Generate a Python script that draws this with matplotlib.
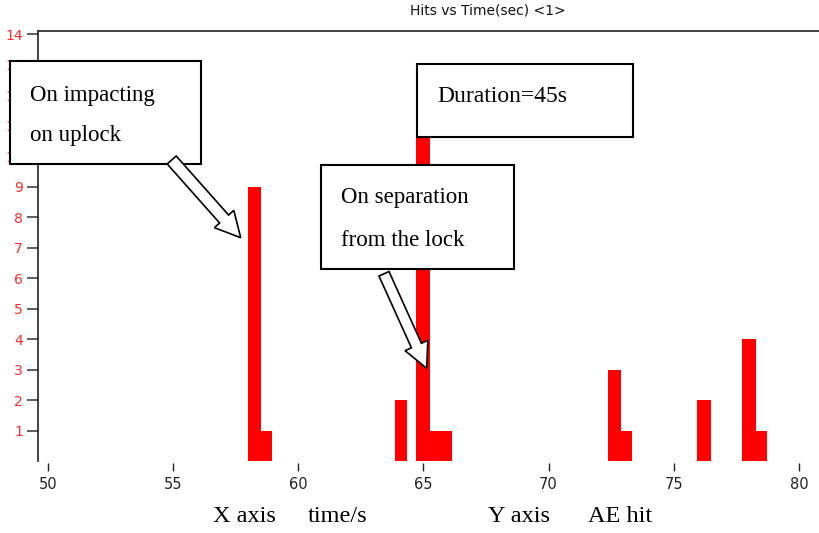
import matplotlib
matplotlib.use("Agg")
import matplotlib.pyplot as plt
from matplotlib.patches import Rectangle, FancyArrow
from matplotlib.transforms import IdentityTransform
import numpy as np

# ---- data ----
bin_left = [58.0, 58.52, 63.86, 64.71, 65.27, 65.70, 72.36, 72.90, 75.94, 77.74, 78.29]
bin_right = [58.52, 58.96, 64.34, 65.27, 65.70, 66.13, 72.90, 73.34, 76.49, 78.29, 78.73]
hits = [9, 1, 2, 13, 1, 1, 3, 1, 2, 4, 1]
x_ticks = [50, 55, 60, 65, 70, 75, 80]
y_ticks = list(range(1, 15))

title = "Hits vs Time(sec) <1>"
box1_lines = ["On impacting", "on uplock"]
box2_lines = ["Duration=45s"]
box3_lines = ["On separation", "from the lock"]
xlabel_parts = ["X axis", "time/s"]
ylabel_parts = ["Y axis", "AE hit"]

W, H = 819, 533
fig = plt.figure(figsize=(W / 100, H / 100), dpi=100)

def fx(x):
    return x / W

def fy(y):
    return 1 - y / H

ax_left, ax_top, ax_bottom = 37.7, 30.7, 461.0
ax = fig.add_axes([fx(ax_left), fy(ax_bottom), 1 - fx(ax_left), (ax_bottom - ax_top) / H])

widths = np.array(bin_right) - np.array(bin_left)
ax.bar(bin_left, hits, width=widths, align="edge", color="#ff0000", edgecolor="none")

ax.set_xlim(49.6, 80.8)
ax.set_ylim(0, 14.12)
ax.set_xticks(x_ticks)
ax.set_xticklabels([str(v) for v in x_ticks])
ax.set_yticks(y_ticks)
ax.set_yticklabels([str(v) for v in y_ticks])

ax.spines["bottom"].set_position(("outward", 1.5))
for s in ["bottom", "right"]:
    ax.spines[s].set_visible(False)
for s in ["left", "top"]:
    ax.spines[s].set_linewidth(1.2)
    ax.spines[s].set_color("#222222")

ax.tick_params(axis="y", direction="out", length=8, width=1.1, color="#333333",
               labelcolor="#ff2a2a", labelsize=10, pad=2.5)
ax.tick_params(axis="x", direction="out", length=5.5, width=1.0, color="#222222",
               labelcolor="#222222", labelsize=10.5, pad=4.5)
for lab in ax.get_xticklabels() + ax.get_yticklabels():
    lab.set_fontfamily("DejaVu Sans")

fig.text(fx(488), fy(11), title, ha="center", va="center", fontsize=10,
         family="DejaVu Sans", color="#111111")

serif = "Liberation Serif"

def box(x0, y0, x1, y1, lines, tx, tys, fs):
    fig.add_artist(Rectangle((fx(x0), fy(y1)), fx(x1) - fx(x0), fy(y0) - fy(y1),
                             transform=fig.transFigure, facecolor="white",
                             edgecolor="black", linewidth=1.5, zorder=5))
    for line, ty in zip(lines, tys):
        fig.text(fx(tx), fy(ty), line, ha="left", va="center", fontsize=fs,
                 family=serif, color="black", zorder=6)

box(9.5, 61.3, 201, 164.5, box1_lines, 29.7, [95, 135], 16.5)
box(416.7, 64.3, 632.7, 137.3, box2_lines, 437.7, [97], 17)
box(321, 165, 514, 269, box3_lines, 341, [198, 240], 16.5)

def arrow(tail, tip, width, head_width, head_length):
    x0, y0 = tail[0], H - tail[1]
    x1, y1 = tip[0], H - tip[1]
    a = FancyArrow(x0, y0, x1 - x0, y1 - y0, width=width, head_width=head_width,
                   head_length=head_length, length_includes_head=True,
                   transform=IdentityTransform(), facecolor="white",
                   edgecolor="black", linewidth=1.2, zorder=7)
    fig.add_artist(a)

arrow((171.7, 160.0), (240.7, 237.7), 12, 26, 25)
arrow((384.0, 273.8), (426.7, 368.3), 11, 25, 25)

label_fs = 17.5
fig.text(fx(213), fy(522), xlabel_parts[0], ha="left", va="baseline", fontsize=label_fs,
         family=serif, color="black")
fig.text(fx(367), fy(522), xlabel_parts[1], ha="right", va="baseline", fontsize=label_fs,
         family=serif, color="black")
fig.text(fx(488), fy(522), ylabel_parts[0], ha="left", va="baseline", fontsize=label_fs,
         family=serif, color="black")
fig.text(fx(652), fy(522), ylabel_parts[1], ha="right", va="baseline", fontsize=label_fs,
         family=serif, color="black")

fig.savefig("out.png", dpi=100)
